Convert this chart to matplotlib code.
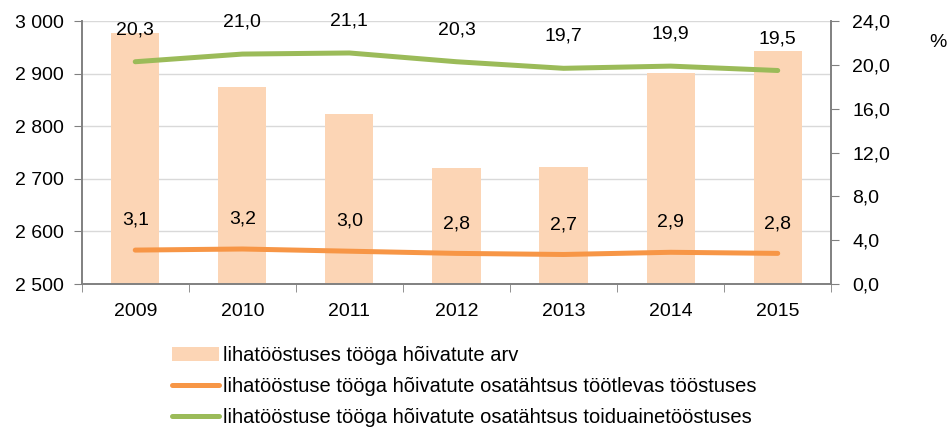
import matplotlib.pyplot as plt
import numpy as np
from matplotlib.patches import Patch
from matplotlib.lines import Line2D
from matplotlib.ticker import FuncFormatter, FixedLocator

plt.rcParams["font.family"] = ["Liberation Sans", "DejaVu Sans"]

years = ["2009", "2010", "2011", "2012", "2013", "2014", "2015"]
employed = [2977, 2875, 2824, 2721, 2723, 2901, 2944]
share_manuf = [3.1, 3.2, 3.0, 2.8, 2.7, 2.9, 2.8]
share_food = [20.3, 21.0, 21.1, 20.3, 19.7, 19.9, 19.5]

BAR = "#FCD5B5"
ORANGE = "#F79646"
GREEN = "#9BBB59"
GRID = "#D9D9D9"
AXC = "#808080"
FS = 14

fig = plt.figure(figsize=(9.5, 4.33), dpi=100)
ax = fig.add_axes([0.086, 0.344, 0.789, 0.607])
ax2 = ax.twinx()

x = np.arange(len(years))
ax.bar(x, employed, width=0.45, color=BAR, zorder=2)
ax.set_ylim(2500, 3000)
ax.set_xlim(-0.5, len(years) - 0.5)
ax.set_yticks(np.arange(2500, 3001, 100))
ax.yaxis.set_major_formatter(FuncFormatter(lambda v, p: f"{int(v):,}".replace(",", " ")))
ax.grid(axis="y", color=GRID, lw=1, zorder=0)
ax.set_axisbelow(True)
ax.set_xticks(x)
ax.set_xticklabels(years)
ax.xaxis.set_minor_locator(FixedLocator(np.arange(-0.5, len(years), 1.0)))
ax.tick_params(axis="x", which="major", length=0, pad=14, labelsize=FS)
ax.tick_params(axis="x", which="minor", length=6, color=AXC, direction="out")
ax.tick_params(axis="y", length=6, color=AXC, labelsize=FS, pad=7)

ax2.plot(x, share_manuf, color=ORANGE, lw=3.6, solid_capstyle="round", zorder=3)
ax2.plot(x, share_food, color=GREEN, lw=3.6, solid_capstyle="round", zorder=3)
ax2.set_ylim(0, 24)
ax2.set_yticks(np.arange(0, 24.1, 4))
ax2.yaxis.set_major_formatter(FuncFormatter(lambda v, p: f"{v:.1f}".replace(".", ",")))
ax2.tick_params(axis="y", length=6, color=AXC, labelsize=FS, pad=9)

for xi, v in zip(x, share_manuf):
    ax2.annotate(f"{v:.1f}".replace(".", ","), (xi, v), xytext=(0, 21.5),
                 textcoords="offset points", ha="center", va="center", fontsize=FS)
for xi, v in zip(x, share_food):
    ax2.annotate(f"{v:.1f}".replace(".", ","), (xi, v), xytext=(0, 23),
                 textcoords="offset points", ha="center", va="center", fontsize=FS)

for a in (ax, ax2):
    a.spines["top"].set_visible(False)
    for s in ("left", "right", "bottom"):
        a.spines[s].set_color(AXC)
        a.spines[s].set_linewidth(1.2)

fig.text(0.987, 0.902, "%", fontsize=FS, ha="center", va="center")

handles = [
    Patch(facecolor=BAR, edgecolor="none"),
    Line2D([0], [0], color=ORANGE, lw=3.6, solid_capstyle="round"),
    Line2D([0], [0], color=GREEN, lw=3.6, solid_capstyle="round"),
]
labels = [
    "lihatööstuses tööga hõivatute arv",
    "lihatööstuse tööga hõivatute osatähtsus töötlevas tööstuses",
    "lihatööstuse tööga hõivatute osatähtsus toiduainetööstuses",
]
fig.legend(handles, labels, loc="lower left", bbox_to_anchor=(0.175, 0.0),
           frameon=False, fontsize=14.5, handlelength=2.3, handletextpad=0.2,
           labelspacing=0.6, borderaxespad=0.1, borderpad=0.2)

fig.savefig("out.png", dpi=100)
